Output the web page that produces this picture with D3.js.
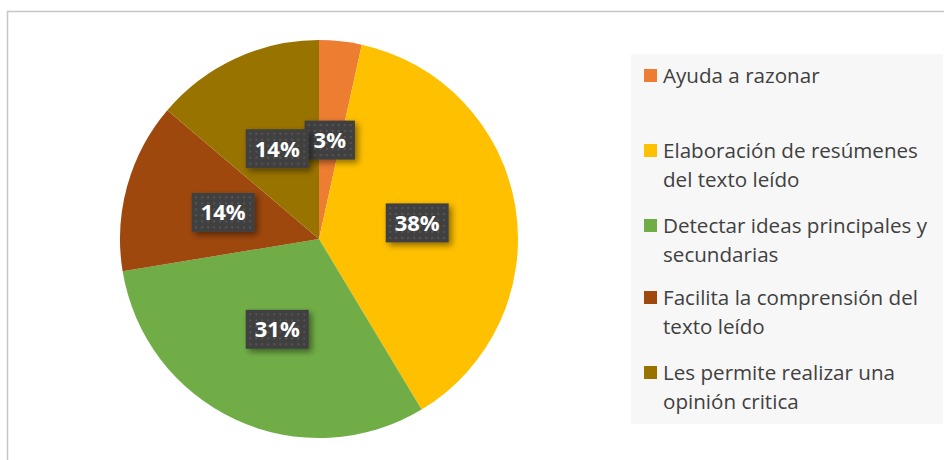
<!DOCTYPE html>
<html>
<head>
<meta charset="utf-8">
<script src="https://cdn.jsdelivr.net/npm/d3@7"></script>
<style>
  body { margin: 0; background: #fff; }
  svg { display: block; }
</style>
</head>
<body>
<div id="chart"></div>
<script>
// Datos (conteos, 29 respuestas)
const categorias = ["Ayuda a razonar", "Elaboración de resúmenes del texto leído",
  "Detectar ideas principales y secundarias", "Facilita la comprensión del texto leído",
  "Les permite realizar una opinión critica"];
const valores = [1, 11, 9, 4, 4];
const colores = ["#ED7D31", "#FFC000", "#70AD47", "#9E480E", "#997300"];
// líneas de la leyenda (texto ajustado como en el original)
const lineasLeyenda = [
  ["Ayuda a razonar"],
  ["Elaboración de resúmenes", "del texto leído"],
  ["Detectar ideas principales y", "secundarias"],
  ["Facilita la comprensión del", "texto leído"],
  ["Les permite realizar una", "opinión critica"]
];

const W = 944, H = 460;
const cx = 319, cy = 239, R = 199;

const svg = d3.select("#chart").append("svg")
  .attr("width", W).attr("height", H);

const defs = svg.append("defs");

// patrón de puntos de las etiquetas
const pat = defs.append("pattern")
  .attr("id", "puntos")
  .attr("width", 6).attr("height", 6)
  .attr("patternUnits", "userSpaceOnUse");
pat.append("rect").attr("width", 6).attr("height", 6).attr("fill", "#404040");
pat.append("rect").attr("x", 2).attr("y", 2).attr("width", 2).attr("height", 2).attr("fill", "#555");

const sombra = defs.append("filter").attr("id", "sombra")
  .attr("x", "-30%").attr("y", "-30%").attr("width", "160%").attr("height", "160%");
sombra.append("feDropShadow")
  .attr("dx", 3).attr("dy", 3).attr("stdDeviation", 3)
  .attr("flood-color", "#000").attr("flood-opacity", 0.45);

// marco del área del gráfico
svg.append("rect")
  .attr("x", 7.5).attr("y", 11.5)
  .attr("width", W + 10).attr("height", H + 10)
  .attr("fill", "#fff")
  .attr("stroke", "#c6c6c6").attr("stroke-width", 1.5);

// fondo de la leyenda
svg.append("rect")
  .attr("x", 631).attr("y", 54)
  .attr("width", 312).attr("height", 370)
  .attr("fill", "#f7f7f7");

// Pie
const pie = d3.pie().sort(null).value(d => d)(valores);
const arc = d3.arc().innerRadius(0).outerRadius(R);
const arcEtiqueta = d3.arc().innerRadius(R * 0.5).outerRadius(R * 0.5);
const total = d3.sum(valores);

const g = svg.append("g").attr("transform", `translate(${cx},${cy})`);

g.selectAll("path")
  .data(pie)
  .enter()
  .append("path")
    .attr("d", arc)
    .attr("fill", (d, i) => colores[i]);

// Etiquetas con caja
const etiquetas = g.selectAll("g.etq")
  .data(pie)
  .enter()
  .append("g")
    .attr("class", "etq")
    .attr("transform", d => `translate(${arcEtiqueta.centroid(d)})`);

etiquetas.each(function(d) {
  const el = d3.select(this);
  const txt = Math.round(d.value / total * 100) + "%";
  const t = el.append("text")
    .attr("text-anchor", "middle")
    .attr("dy", "0.36em")
    .style("font-family", "'Open Sans', sans-serif")
    .style("font-weight", "bold")
    .style("font-size", "22px")
    .style("fill", "#fff")
    .text(txt);
  const w = t.node().getComputedTextLength() + 18;
  el.insert("rect", "text")
    .attr("x", -w / 2).attr("y", -19.5)
    .attr("width", w).attr("height", 39)
    .attr("fill", "url(#puntos)")
    .attr("filter", "url(#sombra)");
});

// Leyenda
const posY = [76, 151, 226, 298, 373];
const leyenda = svg.selectAll("g.ley")
  .data(lineasLeyenda)
  .enter()
  .append("g")
    .attr("class", "ley")
    .attr("transform", (d, i) => `translate(644,${posY[i]})`);

leyenda.append("rect")
  .attr("x", 0).attr("y", -7)
  .attr("width", 13).attr("height", 13)
  .attr("fill", (d, i) => colores[i]);

leyenda.append("text")
  .style("font-family", "'Open Sans', sans-serif")
  .style("font-size", "20.6px")
  .style("fill", "#404040")
  .selectAll("tspan")
  .data(d => d)
  .enter()
  .append("tspan")
    .attr("x", 19)
    .attr("y", (d, i) => i * 28.5)
    .attr("dy", "0.35em")
    .text(d => d);
</script>
</body>
</html>
